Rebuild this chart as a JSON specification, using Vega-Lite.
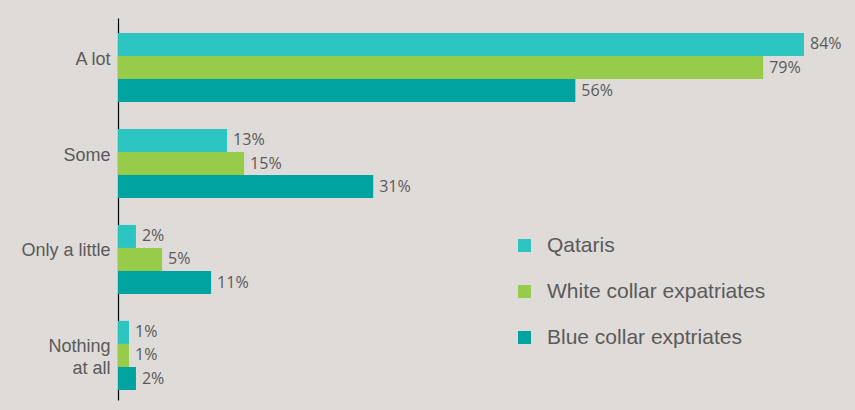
{
  "$schema": "https://vega.github.io/schema/vega-lite/v6.json",
  "width": 735,
  "height": 382,
  "autosize": {"type": "none"},
  "padding": {"left": 118, "top": 18, "right": 2, "bottom": 10},
  "background": "#DFDBD8",
  "config": {"view": {"stroke": null}},
  "data": {"values": [
    {"cat": "A lot", "series": "Qataris", "value": 0.84},
    {"cat": "A lot", "series": "White collar expatriates", "value": 0.79},
    {"cat": "A lot", "series": "Blue collar exptriates", "value": 0.56},
    {"cat": "Some", "series": "Qataris", "value": 0.1336},
    {"cat": "Some", "series": "White collar expatriates", "value": 0.1544},
    {"cat": "Some", "series": "Blue collar exptriates", "value": 0.3125},
    {"cat": "Only a little", "series": "Qataris", "value": 0.022},
    {"cat": "Only a little", "series": "White collar expatriates", "value": 0.054},
    {"cat": "Only a little", "series": "Blue collar exptriates", "value": 0.114},
    {"cat": "Nothing at all", "series": "Qataris", "value": 0.0135},
    {"cat": "Nothing at all", "series": "White collar expatriates", "value": 0.0135},
    {"cat": "Nothing at all", "series": "Blue collar exptriates", "value": 0.022}
  ]},
  "encoding": {
    "y": {
      "field": "cat", "type": "nominal",
      "sort": ["A lot", "Some", "Only a little", "Nothing at all"],
      "scale": {"paddingInner": 0.28, "paddingOuter": 0.13, "align": 0.6},
      "axis": {
        "title": null, "ticks": false, "domainColor": "#000000", "domainWidth": 1.2,
        "labelFont": "Liberation Sans", "labelFontSize": 18, "labelColor": "#5A5A5A",
        "labelPadding": 8, "labelLineHeight": 22, "labelLimit": 0, "labelOffset": -8,
        "labelExpr": "datum.value == 'Nothing at all' ? ['Nothing', 'at all'] : datum.label"
      }
    },
    "yOffset": {
      "field": "series", "type": "nominal",
      "sort": ["Qataris", "White collar expatriates", "Blue collar exptriates"]
    },
    "x": {
      "field": "value", "type": "quantitative",
      "scale": {"domain": [0, 0.9]},
      "axis": null
    }
  },
  "layer": [
    {
      "mark": {"type": "bar"},
      "encoding": {
        "color": {
          "field": "series", "type": "nominal",
          "sort": ["Qataris", "White collar expatriates", "Blue collar exptriates"],
          "scale": {"range": ["#2CC4C1", "#97CC4A", "#00A3A0"]},
          "legend": {
            "title": null, "orient": "none", "legendX": 396, "legendY": 217,
            "symbolType": "square", "symbolSize": 169, "symbolStrokeWidth": 0,
            "labelFont": "Liberation Sans", "labelFontSize": 21, "labelColor": "#5A5A5A",
            "labelOffset": 12, "rowPadding": 24, "labelLimit": 0
          }
        }
      }
    },
    {
      "mark": {"type": "text", "align": "left", "dx": 6, "font": "Open Sans", "fontSize": 16, "color": "#5A5A5A"},
      "encoding": {
        "text": {"field": "value", "type": "quantitative", "format": ".0%"}
      }
    }
  ]
}
